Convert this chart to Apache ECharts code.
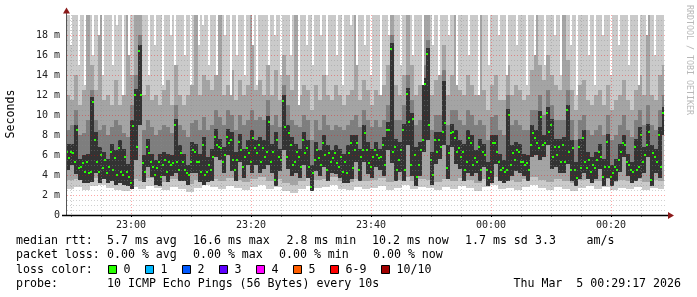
<!DOCTYPE html>
<html><head><meta charset="utf-8">
<script src="https://cdn.jsdelivr.net/npm/echarts@6/dist/echarts.min.js"></script>
<style>html,body{margin:0;padding:0;background:#fff}#c{width:697px;height:297px}</style>
</head><body><div id="c"></div>
<script>
// ---- data (ms) ----
// median rtt per 20 s step (2 px column), start 22:49:20
const MED = [
6.3,5.7,6.3,6.2,5.3,8.5,4.7,4.8,5.2,4.3, 5.3,4.2,4.3,11.3,7.5,5.3,4.3,6.0,4.7,5.5,
4.2,4.8,6.3,4.5,5.7,4.0,6.7,4.3,4.0,5.8, 4.3,3.8,3.2,8.9,12.0,6.8,16.4,12.0,5.2,4.3,
6.8,6.2,5.3,4.8,4.0,4.7,5.3,3.8,5.0,5.5, 4.3,5.3,5.0,5.2,9.0,5.3,4.5,6.2,5.3,4.5,
4.2,4.0,5.3,6.5,6.3,5.3,5.3,4.3,7.0,4.0, 4.3,5.0,4.5,5.8,7.8,7.0,6.8,6.7,5.3,6.0,
7.8,7.2,7.5,5.5,4.5,5.5,7.3,6.5,4.8,5.8, 6.7,6.2,5.3,7.7,6.7,6.2,7.0,5.3,6.7,5.8,
6.3,9.3,5.3,6.3,3.5,7.5,5.8,5.5,11.4,8.8, 5.8,8.2,7.0,5.0,5.3,6.3,5.8,4.8,7.5,6.2,
6.7,4.8,2.8,4.2,5.5,6.5,5.7,5.0,7.2,6.0, 4.5,6.2,5.3,5.7,6.2,5.2,4.8,5.8,4.3,5.3,
4.2,6.2,7.2,4.7,6.5,7.2,4.5,5.8,6.5,8.2, 6.5,5.2,4.8,5.8,6.5,6.0,5.7,5.8,7.0,5.0,
8.5,8.5,16.6,6.3,6.8,4.5,5.5,6.5,8.5,4.5, 12.1,9.3,5.0,9.6,6.0,3.8,5.0,6.5,7.5,13.1,
16.1,9.0,5.5,4.0,7.5,6.3,7.5,6.8,8.3,9.2, 4.7,6.2,8.2,8.3,7.7,6.3,6.7,5.8,6.3,4.5,
5.3,7.7,7.2,5.0,5.7,5.3,6.8,4.5,6.3,6.0, 4.5,3.7,4.3,7.2,7.2,6.3,5.3,4.5,4.7,4.3,
4.5,10.0,5.0,6.2,5.5,6.5,6.3,5.3,5.3,5.0, 5.2,4.5,7.0,8.2,7.7,7.2,6.7,9.8,7.0,7.2,
10.2,8.3,9.0,5.8,6.8,6.0,6.8,5.3,7.0,5.3, 10.5,6.3,4.5,6.7,4.5,3.7,6.8,4.7,7.7,5.3,
4.7,5.5,4.3,5.0,4.7,5.5,6.3,5.8,3.8,4.8, 7.3,4.8,3.8,4.2,4.8,4.5,5.5,6.3,7.2,7.0,
5.3,5.0,4.5,4.3,6.8,4.5,4.8,8.0,5.3,6.0, 7.0,8.3,3.5,6.2,5.8,5.3,8.0,4.8,10.2
];
// max ping per 20 s step (values above the axis are shown as 20)
const TOP = [
20,20,17,20,20,20,15,20,20,13, 20,20,20,16,20,20,18,20,14,20, 20,20,20,15,20,19,20,20,12,20,
20,16,20,20,20,20,20,20,20,20, 20,14,20,20,17,20,20,20,13,20, 20,20,18,20,15,20,20,20,20,16,
20,20,13,20,20,20,17,20,19,20, 20,15,20,20,20,14,20,20,20,18, 20,20,12,20,20,16,20,20,20,14,
20,20,20,17,20,13,20,20,20,20, 20,15,20,20,18,20,20,14,20,20, 20,20,16,20,20,20,11,20,20,20,
17,20,20,15,20,20,20,18,20,20, 14,20,20,20,20,16,20,20,13,20, 20,20,19,20,20,15,20,20,20,17,
20,20,14,20,20,20,20,12,20,20, 20,18,20,20,20,20,20,15,20,20, 20,20,20,16,20,20,20,20,13,20,
20,20,20,17,20,20,14,20,20,20, 20,18,20,20,20,13,20,20,20,20, 20,16,20,20,20,20,12,20,20,20,
20,15,20,20,20,20,18,20,20,20, 14,20,20,20,20,17,20,20,20,20, 13,20,20,20,16,20,20,20,20,15,
20,20,20,20,18,20,20,14,20,20, 20,20,17,20,20,12,20,20,20,20, 20,16,20,20,13,20,20,20,18,20,
20,20,14,20,20,20,17,20,20,20, 20,15,20,20,20,20,13,20,20,20, 18,20,20,20,16,20,20,20,20
];
// smoke per 40 s: bottom / top of the dark core
const DLO = [
4.5,5.0,4.1,3.5,3.2,3.2,3.3,4.2,3.2,3.6, 3.2,3.4,3.0,3.2,3.0,2.9,2.6,5.5,9.0,3.3,
4.8,3.8,3.0,2.9,3.9,3.3,3.9,4.2,3.4,3.4, 3.0,4.2,4.2,3.3,3.0,3.3,3.4,5.8,5.5,4.2,
6.0,4.4,3.4,5.3,3.7,5.0,4.2,5.0,4.2,4.6, 5.0,4.2,2.9,4.4,6.5,4.6,3.9,4.2,3.7,5.0,
3.7,2.4,4.4,3.9,4.8,3.4,4.2,4.1,3.7,3.2, 3.2,3.6,5.3,3.4,5.3,4.1,3.7,4.8,4.5,3.9,
6.5,5.2,3.4,4.3,3.4,7.0,3.9,2.9,3.9,6.3, 7.5,3.0,5.1,5.6,7.0,3.6,6.8,5.1,4.6,3.4,
4.2,3.9,4.2,3.4,4.8,2.9,3.2,5.1,3.4,3.2, 3.4,3.9,4.4,4.2,3.9,3.4,5.8,6.0,5.5,5.8,
7.0,4.6,4.8,4.2,4.2,5.1,3.4,2.9,3.6,4.2, 3.6,3.2,3.6,4.6,2.9,3.7,2.9,3.4,4.3,5.8,
3.9,3.2,3.4,3.7,4.2,5.8,2.9,4.2,3.7,8.0
];
const DHI = [
7.1,7.1,9.0,5.6,6.0,6.1,11.8,8.3,6.8,6.3, 5.6,7.1,6.5,7.5,6.6,5.1,9.5,12.6,17.0,6.0,
7.6,6.1,5.5,6.1,6.3,6.1,6.0,9.6,7.0,6.1, 5.0,7.3,7.1,6.1,7.8,5.8,6.6,8.6,7.6,6.8,
8.6,8.3,6.3,8.1,6.6,7.5,8.5,7.5,7.8,7.5, 9.9,7.1,8.3,6.6,12.0,9.0,7.8,7.1,6.6,8.3,
7.5,5.0,7.3,6.5,8.0,7.0,6.5,7.0,6.6,6.1, 7.0,8.0,8.0,6.6,9.0,7.3,6.6,7.3,6.6,7.8,
9.3,17.2,7.6,7.3,9.1,12.7,10.2,6.8,7.3,13.7, 16.7,6.3,8.3,8.3,13.4,7.0,9.1,8.5,7.5,7.1,
8.5,8.0,6.5,7.6,7.1,5.3,8.0,8.0,6.1,5.5, 10.6,7.0,7.3,7.1,6.1,6.0,9.0,8.5,10.4,8.0,
10.8,9.6,7.6,7.6,7.8,11.0,7.5,5.3,7.6,8.5, 6.3,5.8,6.3,7.1,5.6,8.1,5.0,5.6,7.1,8.0,
6.1,5.3,7.6,8.8,6.8,9.1,7.0,6.6,8.8,10.8
];
// top of the mid-grey layers, per 40 s
const GRY = [
8.5,9.0,10.5,8.0,8.2,9.5,12.5,9.5,8.5,9.0, 8.0,8.8,9.5,9.0,8.2,7.8,11.0,14.0,18.0,8.5,
9.5,8.8,8.0,8.5,9.0,8.8,8.2,11.0,9.0,8.5, 7.8,9.2,9.5,8.5,9.8,8.5,9.0,10.5,9.8,9.0,
10.5,10.0,8.5,10.0,9.0,9.5,10.5,9.5,9.8,9.5, 11.5,9.0,10.0,8.8,13.0,11.0,9.5,9.0,8.8,10.0,
9.5,7.5,9.5,8.5,10.0,9.0,8.5,9.0,8.8,8.5, 9.0,9.5,10.0,8.8,10.5,9.5,8.8,9.5,8.8,9.5,
11.0,18.0,9.5,9.5,11.0,14.0,11.5,9.0,9.5,15.0, 17.5,8.5,10.0,10.0,14.5,9.0,10.5,10.5,9.5,9.0,
10.5,10.0,9.0,9.5,9.0,7.5,9.8,10.0,8.5,8.0, 12.0,9.0,9.5,9.0,8.5,8.5,10.5,10.5,12.0,10.0,
12.5,11.0,9.5,9.5,9.5,12.5,9.5,7.5,9.5,10.0, 8.5,8.0,8.5,9.0,8.0,10.0,7.5,8.0,9.0,10.0,
8.5,7.8,9.5,10.5,9.0,11.0,9.0,8.5,10.5,12.0
];
const UP = [
12.0,11.5,14.0,11.0,12.5,20.0,15.0,12.5,20.0,11.5, 12.0,11.0,13.5,11.0,12.0,20.0,14.0,20.0,20.0,12.0,
13.0,11.5,12.0,11.0,12.5,13.5,11.0,15.0,12.0,11.0, 12.0,13.0,20.0,12.0,14.0,13.5,12.5,14.0,20.0,12.0,
13.0,14.5,11.5,13.5,12.0,13.0,20.0,12.5,13.5,12.0, 15.0,12.0,14.5,11.5,16.0,14.0,12.5,20.0,12.0,13.0,
12.5,10.5,13.0,11.5,14.0,12.0,11.5,13.0,12.0,11.0, 12.0,12.5,20.0,11.5,13.5,12.5,11.0,12.5,12.0,13.0,
15.0,20.0,13.0,12.0,14.0,20.0,15.0,12.0,13.0,20.0, 20.0,12.0,13.5,14.0,17.0,12.0,14.0,20.0,12.5,12.0,
14.0,13.0,12.0,20.0,12.5,10.5,13.0,14.0,11.5,11.5, 15.0,12.0,13.0,12.5,11.5,12.0,14.5,20.0,15.0,13.5,
16.0,14.0,13.0,12.5,20.0,15.5,12.5,10.5,13.0,13.5, 11.5,11.0,12.0,12.5,11.0,13.0,10.5,11.5,12.0,13.5,
11.5,10.5,12.5,14.0,12.0,20.0,12.0,11.5,14.0,15.0
];
// min ping and lower edge of the grey body, per 80 s
const BOT = [
2.6,2.8,2.5,2.9,3.0,2.7,2.5,2.4,2.8,2.6, 2.9,2.7,2.5,2.8,2.6,2.3,2.7,3.0,2.8,2.6,
2.9,2.7,2.5,2.8,3.0,2.6,2.8,2.4,2.2,2.6, 2.9,2.7,2.8,3.0,2.6,2.5,2.8,2.6,2.7,2.9,
2.5,2.7,3.0,2.6,2.8,2.7,2.5,2.8,2.6,2.9, 2.7,2.4,2.8,3.0,2.6,2.7,2.5,2.8,3.0,2.7,
2.5,2.8,2.6,2.4,2.7,2.9,2.6,2.8,2.5,2.7, 2.6,2.8,2.5,2.7,2.6
];
const LOW = [
3.5,3.6,3.3,3.7,3.6,3.4,3.3,3.2,3.6,3.4, 3.7,3.5,3.3,3.6,3.4,3.1,3.5,3.8,3.6,3.4,
3.7,3.5,3.3,3.6,3.8,3.4,3.6,3.2,3.0,3.4, 3.7,3.5,3.6,3.8,3.4,3.3,3.6,3.4,3.5,3.7,
3.3,3.5,3.8,3.4,3.6,3.5,3.3,3.6,3.4,3.7, 3.5,3.2,3.6,3.8,3.4,3.5,3.3,3.6,3.8,3.5,
3.3,3.6,3.4,3.2,3.5,3.7,3.4,3.6,3.3,3.5, 3.4,3.6,3.3,3.5,3.4
];
const Y_TICKS = [0,2,4,6,8,10,12,14,16,18];
const START_SEC = 22*3600 + 49*60 + 20;
const STEP_SEC = 20;
const NCAT = 300;

// ---- build ----
const pad = n => String(n).padStart(2,'0');
const cats = [];
for (let i = 0; i < NCAT; i++) {
  const t = (START_SEC + i*STEP_SEC) % 86400;
  cats.push(pad(Math.floor(t/3600)) + ':' + pad(Math.floor(t%3600/60)) + ':' + pad(t%60));
}
const isMajor = i => { const t=(START_SEC+i*STEP_SEC)%86400; return t % 1200 === 0; };
const isMinor = i => { const t=(START_SEC+i*STEP_SEC)%86400; return t % 300 === 0 && t % 1200 !== 0; };

const smokeData = MED.map((m, i) => [i, BOT[i>>2], LOW[i>>2], DLO[i>>1], DHI[i>>1], GRY[i>>1], UP[i>>1], TOP[i]]);
const medData = MED.map((v, i) => [i, v]);

function clipRect(r, params) {
  const c = params.coordSys;
  return echarts.graphic.clipRectByRect(r, {x:c.x, y:c.y, width:c.width, height:c.height});
}
function band(api, params, x0, w, xi, lo, hi, color) {
  if (hi <= lo) return null;
  const p1 = api.coord([xi, Math.min(lo,20)]);
  const p2 = api.coord([xi, Math.min(hi,20)]);
  const y1 = Math.round(p1[1]), y2 = Math.round(p2[1]);
  const r = clipRect({x: x0, y: y2, width: w, height: y1 - y2}, params);
  return r ? {type:'rect', shape:r, style:{fill:color}} : null;
}
function renderSmoke(params, api) {
  const xi = api.value(0);
  const a = api.coord([xi, 0])[0];
  const b = api.coord([xi + 1, 0])[0];
  const step = b - a;
  const x0 = Math.round(a - step/2);
  const w = Math.round(step);
  const v = k => api.value(k);
  const top = v(7);
  const ch = [
    band(api, params, x0, w, xi, v(1), top, '#cacaca'),
    band(api, params, x0, w, xi, v(2), Math.min(v(6), top), '#a4a4a4'),
    band(api, params, x0, w, xi, v(3), Math.min(v(5), top), '#7e7e7e'),
    band(api, params, x0, w, xi, v(3), Math.min(v(4), top), '#333333')
  ].filter(Boolean);
  return {type:'group', children: ch};
}
function renderMed(params, api) {
  const xi = api.value(0);
  const p = api.coord([xi, api.value(1)]);
  const q = api.coord([xi + 1, api.value(1)]);
  const step = q[0] - p[0];
  const r = clipRect({x: Math.round(p[0]-step/2), y: Math.round(p[1])-1, width: Math.round(step), height: 2}, params);
  return r ? {type:'rect', shape:r, style:{fill:'#26ff00'}} : null;
}

const MONO = '"DejaVu Sans Mono", monospace';
const chart = echarts.init(document.getElementById('c'), null, {renderer:'canvas'});
const FS = 11.6;
const txt = (x, y, s, extra) => Object.assign({type:'text', x, y, z:100,
  style:{text:s, font: FS+'px '+MONO, fill:'#000', verticalAlign:'middle', align:'left'}}, extra||{});
const lossCols = ['#26ff00','#00b8ff','#0059ff','#5e00ff','#ff00ff','#ff5e00','#ff0000','#a10000'];
const lossLabels = ['0','1','2','3','4','5','6-9','10/10'];
const lossX = [108.5,145.5,182.5,219.5,256.5,293.5,330.5,381.5];
const L1 = 241, L2 = 255.4, L3 = 269.8, L4 = 284.2;
const graphics = [
  {type:'line', z:90, shape:{x1:66.5, y1:216, x2:66.5, y2:12}, style:{stroke:'#555', lineWidth:1}},
  {type:'line', z:90, shape:{x1:62, y1:215.5, x2:669, y2:215.5}, style:{stroke:'#000', lineWidth:1.5}},
  {type:'polygon', z:91, shape:{points:[[63,13.5],[70,13.5],[66.5,7.5]]}, style:{fill:'#8b1a1a'}},
  {type:'polygon', z:91, shape:{points:[[668,212],[668,219],[674,215.5]]}, style:{fill:'#8b1a1a'}},
  txt(11, 114, 'Seconds', {rotation: Math.PI/2, style:{text:'Seconds', font:FS+'px '+MONO, fill:'#000', align:'center', verticalAlign:'middle'}}),
  txt(689, 5, 'RRDTOOL / TOBI OETIKER', {rotation: -Math.PI/2, style:{text:'RRDTOOL / TOBI OETIKER', font:'8.3px '+MONO, fill:'#b8b8b8', align:'left', verticalAlign:'middle'}}),
  txt(16, L1, 'median rtt:'), txt(107, L1, '5.7 ms avg'), txt(193, L1, '16.6 ms max'),
  txt(286.5, L1, '2.8 ms min'), txt(372, L1, '10.2 ms now'), txt(465, L1, '1.7 ms sd'),
  txt(535, L1, '3.3'), txt(586.5, L1, 'am/s'),
  txt(16, L2, 'packet loss:'), txt(107, L2, '0.00 % avg'), txt(193, L2, '0.00 % max'),
  txt(279, L2, '0.00 % min'), txt(373, L2, '0.00 % now'),
  txt(16, L3, 'loss color:'),
  txt(16, L4, 'probe:'), txt(107, L4, '10 ICMP Echo Pings (56 Bytes) every 10s'),
  txt(681, L4, 'Thu Mar  5 00:29:17 2026', {style:{text:'Thu Mar  5 00:29:17 2026', font:FS+'px '+MONO, fill:'#000', align:'right', verticalAlign:'middle'}})
];
lossCols.forEach((c, k) => {
  graphics.push({type:'rect', z:100, shape:{x:lossX[k], y:265.5, width:8, height:8}, style:{fill:c, stroke:'#000', lineWidth:1}});
  graphics.push(txt(lossX[k]+15, L3, lossLabels[k]));
});

chart.setOption({
  animation:false,
  backgroundColor:'#fff',
  grid:{left:67, right:32, top:15, bottom:82},
  xAxis:[{
    type:'category', data:cats, boundaryGap:false, z:5,
    axisLine:{show:false},
    axisTick:{show:true, interval:(i)=>isMajor(i), length:2, lineStyle:{color:'#000'}},
    axisLabel:{interval:(i)=>isMajor(i), formatter:v=>v.slice(0,5), margin:5,
      fontFamily:MONO, fontSize:10, color:'#222'},
    splitLine:{show:true, interval:(i)=>isMajor(i), lineStyle:{color:'rgba(255,0,0,0.35)', type:[1,2], width:1}}
  },{
    type:'category', data:cats, boundaryGap:false, z:4, position:'bottom',
    axisLine:{show:false}, axisLabel:{show:false},
    axisTick:{show:true, interval:(i)=>isMinor(i), length:2, lineStyle:{color:'#777'}},
    splitLine:{show:true, interval:(i)=>isMinor(i), lineStyle:{color:'rgba(140,140,140,0.45)', type:[1,2], width:1}}
  }],
  yAxis:{
    type:'value', min:0, max:20, interval:2, z:5,
    axisLine:{show:false}, axisTick:{show:false},
    axisLabel:{margin:7, fontFamily:MONO, fontSize:10, color:'#222',
      formatter:v => v===0 ? '0' : (Y_TICKS.indexOf(v) >= 0 ? v+' m' : '')},
    splitLine:{show:true, showMinLine:false, showMaxLine:false, lineStyle:{color:'rgba(255,0,0,0.35)', type:[1,2]}},
    minorTick:{show:true, splitNumber:4, length:0},
    minorSplitLine:{show:true, lineStyle:{color:'rgba(140,140,140,0.4)', type:[1,2]}}
  },
  series:[
    {type:'custom', xAxisIndex:0, renderItem:renderSmoke, data:smokeData, z:1, silent:true,
      encode:{x:0, y:[1,2,3,4,5,6,7]}},
    {type:'custom', xAxisIndex:0, renderItem:renderMed, data:medData, z:2, silent:true,
      encode:{x:0, y:1}}
  ],
  graphic: graphics
});
</script></body></html>
